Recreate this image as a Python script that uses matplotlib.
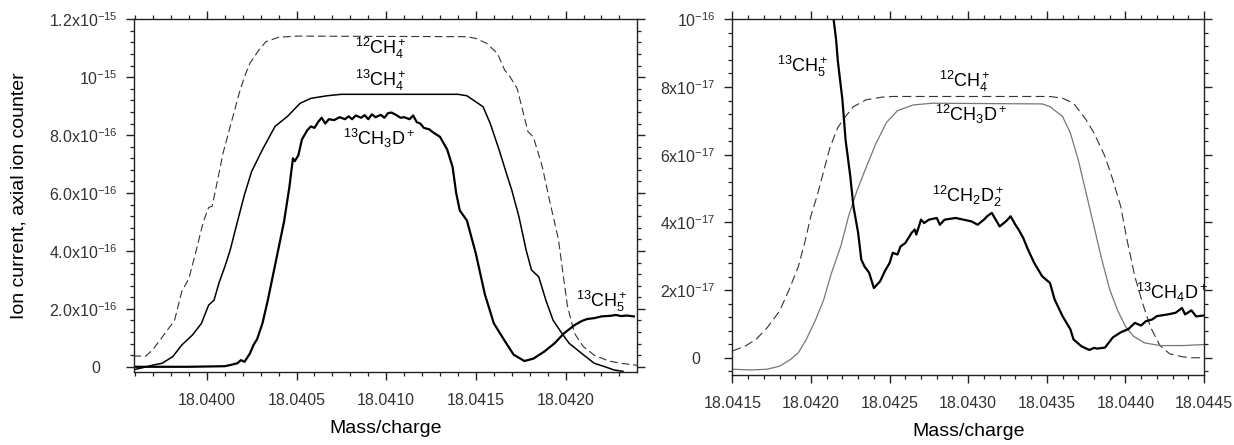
import matplotlib
matplotlib.use("Agg")
from matplotlib import pyplot as plt
from matplotlib.ticker import MultipleLocator, FixedLocator, FixedFormatter, FormatStrFormatter

plt.rcParams['font.family'] = ['Liberation Sans', 'DejaVu Sans']
plt.rcParams['mathtext.fontset'] = 'custom'
plt.rcParams['mathtext.rm'] = 'Liberation Sans'
plt.rcParams['mathtext.it'] = 'Liberation Sans:italic'
plt.rcParams['mathtext.bf'] = 'Liberation Sans:bold'

# ---- left panel (ion current in units of 1e-16) ----
mz_12ch4_a = [18.03959, 18.03966, 18.03970, 18.03976, 18.03982, 18.03986, 18.03990, 18.03994,
              18.03998, 18.04001, 18.04003, 18.04006, 18.04009, 18.04013, 18.04018, 18.04021,
              18.04024, 18.04029, 18.04033, 18.04040, 18.04050, 18.04145, 18.04150, 18.04156,
              18.04162, 18.04166, 18.04169, 18.04173, 18.04176, 18.04179, 18.04182, 18.04187,
              18.04191, 18.04196, 18.04201, 18.04205, 18.04210, 18.04216, 18.04224, 18.04231,
              18.04240]
i_12ch4_a = [0.37, 0.37, 0.6, 1.1, 1.6, 2.6, 3.05, 4.0,
             5.0, 5.5, 5.55, 6.45, 7.37, 8.29, 9.44, 10.02,
             10.48, 10.94, 11.23, 11.38, 11.42, 11.4, 11.34, 11.17,
             10.82, 10.25, 10.02, 9.61, 8.87, 8.12, 7.94, 6.91,
             5.76, 4.4, 2.1, 1.15, 0.69, 0.4, 0.2, 0.12,
             0.05]

mz_13ch4 = [18.03960, 18.03965, 18.03970, 18.03975, 18.03981, 18.03986, 18.03992, 18.03997,
            18.04001, 18.04004, 18.04007, 18.04010, 18.04013, 18.04017, 18.04021, 18.04025,
            18.04031, 18.04038, 18.04045, 18.04052, 18.04058, 18.04067, 18.04075, 18.04140,
            18.04145, 18.04154, 18.04158, 18.04163, 18.04167, 18.04170, 18.04174, 18.04178,
            18.04181, 18.04185, 18.04189, 18.04193, 18.04198, 18.04202, 18.04209, 18.04216,
            18.04222, 18.04227, 18.04232]
i_13ch4 = [-0.09, -0.02, 0.06, 0.12, 0.35, 0.75, 1.1, 1.5,
           2.13, 2.3, 2.94, 3.45, 4.03, 5.0, 5.95, 6.75,
           7.5, 8.3, 8.65, 9.1, 9.27, 9.36, 9.41, 9.41,
           9.36, 8.98, 8.4, 7.48, 6.68, 6.1, 5.18, 4.03,
           3.34, 3.11, 2.3, 1.61, 1.15, 0.81, 0.46, 0.12,
           0.0, -0.11, -0.16]

mz_13ch3d = [18.03960, 18.03990, 18.04010, 18.04013, 18.04017, 18.04019, 18.04021, 18.04024,
             18.04026, 18.04028, 18.04031, 18.04034, 18.04037, 18.04040, 18.04043, 18.04046,
             18.04048, 18.04049, 18.04051, 18.04053, 18.04056, 18.04058, 18.04060, 18.04062,
             18.04064, 18.04066, 18.04068, 18.04071, 18.04074, 18.04077, 18.04079, 18.04081,
             18.04083, 18.04086, 18.04088, 18.04090, 18.04092, 18.04094, 18.04097, 18.04099,
             18.04101, 18.04103, 18.04106, 18.04108, 18.04110, 18.04113, 18.04115, 18.04117,
             18.04119, 18.04121, 18.04124, 18.04126, 18.04130, 18.04134, 18.04137, 18.04139,
             18.04141, 18.04145, 18.04150, 18.04155, 18.04160, 18.04166, 18.04171, 18.04177,
             18.04182, 18.04188, 18.04194, 18.04199, 18.04205, 18.04209, 18.04212, 18.04216,
             18.04220, 18.04225, 18.04228, 18.04231, 18.04234, 18.04238]
i_13ch3d = [0.0, 0.0, 0.02, 0.06, 0.12, 0.23, 0.17, 0.46,
            0.75, 0.95, 1.5, 2.3, 3.2, 4.1, 5.0, 6.2,
            7.2, 7.1, 7.3, 7.85, 8.17, 8.3, 8.25, 8.45,
            8.6, 8.4, 8.55, 8.52, 8.62, 8.55, 8.65, 8.55,
            8.68, 8.6, 8.69, 8.55, 8.72, 8.62, 8.7, 8.6,
            8.76, 8.78, 8.68, 8.6, 8.62, 8.55, 8.68, 8.45,
            8.4, 8.25, 8.2, 8.1, 7.94, 7.5, 6.9, 6.0,
            5.4, 5.05, 3.9, 2.5, 1.5, 0.9, 0.42, 0.2,
            0.28, 0.52, 0.82, 1.15, 1.44, 1.58, 1.65, 1.68,
            1.74, 1.76, 1.79, 1.75, 1.77, 1.74]

# ---- right panel (ion current in units of 1e-17) ----
mz_12ch4_b = [18.04150, 18.04158, 18.04165, 18.04172, 18.04180, 18.04186, 18.04192, 18.04196,
              18.04200, 18.04204, 18.04208, 18.04212, 18.04217, 18.04222, 18.04227, 18.04235,
              18.04245, 18.04252, 18.04352, 18.04360, 18.04367, 18.04375, 18.04380, 18.04387,
              18.04392, 18.04397, 18.04401, 18.04406, 18.04411, 18.04416, 18.04422, 18.04428,
              18.04436, 18.04442, 18.04450]
i_12ch4_b = [0.2, 0.34, 0.54, 0.88, 1.38, 2.0, 2.7, 3.4,
             4.2, 4.8, 5.5, 6.2, 6.8, 7.13, 7.42, 7.62,
             7.7, 7.72, 7.72, 7.67, 7.52, 7.03, 6.64, 5.95,
             5.26, 4.47, 3.49, 2.4, 1.6, 0.9, 0.36, 0.12,
             0.03, 0.0, 0.0]

mz_12ch3d = [18.04150, 18.04162, 18.04172, 18.04180, 18.04187, 18.04192, 18.04197, 18.04203,
             18.04208, 18.04213, 18.04219, 18.04224, 18.04229, 18.04234, 18.04241, 18.04248,
             18.04255, 18.04265, 18.04277, 18.04347, 18.04352, 18.04360, 18.04365, 18.04370,
             18.04375, 18.04380, 18.04385, 18.04390, 18.04395, 18.04400, 18.04405, 18.04412,
             18.04422, 18.04437, 18.04450]
i_12ch3d = [-0.34, -0.36, -0.34, -0.25, -0.05, 0.15, 0.54, 1.13,
            1.7, 2.5, 3.3, 4.2, 4.9, 5.5, 6.3, 6.95,
            7.3, 7.47, 7.52, 7.5, 7.42, 7.13, 6.64, 5.85,
            4.87, 3.88, 2.9, 2.02, 1.4, 0.93, 0.64, 0.44,
            0.36, 0.36, 0.39]

mz_13ch5 = [18.04212, 18.042144, 18.04216, 18.04217, 18.04220, 18.04222, 18.04225, 18.04227,
            18.04230, 18.04232, 18.04234, 18.04237, 18.04240, 18.04244, 18.04247, 18.04250,
            18.04252, 18.04255, 18.04257, 18.04260, 18.04264, 18.04266, 18.04267, 18.04270,
            18.04272, 18.04275, 18.04280, 18.04282, 18.04285, 18.04292, 18.04297, 18.04302,
            18.04306, 18.04310, 18.04312, 18.04315, 18.04320, 18.04324, 18.04327, 18.04330,
            18.04332, 18.04335, 18.04338, 18.04342, 18.04347, 18.04352, 18.04355, 18.04360,
            18.04365, 18.04367, 18.04372, 18.04377, 18.04380, 18.04382, 18.04387, 18.04392,
            18.04397, 18.04402, 18.04406, 18.04410, 18.04413, 18.04417, 18.04420, 18.04427,
            18.04432, 18.04436, 18.04438, 18.04442, 18.04445, 18.04450]
i_13ch5 = [12.0, 10.0, 9.39, 8.8, 7.62, 6.44, 5.36, 4.47,
           3.69, 2.9, 2.7, 2.51, 2.06, 2.26, 2.56, 2.8,
           3.1, 3.05, 3.29, 3.39, 3.69, 3.79, 3.64, 4.08,
           3.98, 4.08, 4.13, 3.93, 4.08, 4.13, 4.08, 4.03,
           3.93, 4.08, 4.18, 4.28, 3.88, 4.03, 4.18, 3.93,
           3.79, 3.54, 3.2, 2.8, 2.41, 2.21, 1.72, 1.23,
           0.84, 0.54, 0.34, 0.23, 0.29, 0.27, 0.3, 0.6,
           0.75, 0.85, 1.03, 0.95, 1.08, 1.13, 1.23, 1.28,
           1.33, 1.47, 1.28, 1.4, 1.22, 1.25]

# the "0" tick label is drawn separately (it sits further left in the original)
left_yticks = [0, 2, 4, 6, 8, 10, 12]
left_ylabels = ['', '2.0x10$^{-16}$', '4.0x10$^{-16}$', '6.0x10$^{-16}$',
                '8.0x10$^{-16}$', '10$^{-15}$', '1.2x10$^{-15}$']
right_yticks = [0, 2, 4, 6, 8, 10]
right_ylabels = ['', '2x10$^{-17}$', '4x10$^{-17}$', '6x10$^{-17}$',
                 '8x10$^{-17}$', '10$^{-16}$']

INK = '#222222'
TICKFS = 11.5


def style_axes(ax, zero_offset):
    for s in ax.spines.values():
        s.set_color(INK)
        s.set_linewidth(1.0)
    ax.tick_params(which='both', direction='out', top=True, right=True, color=INK,
                   labelcolor='#333333', labelsize=TICKFS)
    ax.tick_params(which='major', length=6, width=1.0)
    ax.tick_params(which='minor', length=3, width=0.9)
    ax.tick_params(axis='x', which='major', pad=9)
    ax.tick_params(axis='y', which='major', pad=6)
    ax.xaxis.set_major_locator(MultipleLocator(0.0005))
    ax.xaxis.set_minor_locator(MultipleLocator(0.0001))
    ax.xaxis.set_major_formatter(FormatStrFormatter('%.4f'))
    ax.yaxis.set_minor_locator(MultipleLocator(0.4))
    ax.set_xlabel('Mass/charge', fontsize=14, labelpad=9)
    ax.annotate('0', xy=(0, 0), xycoords=('axes fraction', 'data'),
                xytext=(zero_offset, 0), textcoords='offset points',
                ha='right', va='center_baseline', fontsize=TICKFS, color='#333333')


fig = plt.figure(figsize=(12.34, 4.45), dpi=100)
ax1 = fig.add_axes([0.1086, 0.1647, 0.4076, 0.7919])
ax2 = fig.add_axes([0.5935, 0.1573, 0.3822, 0.7993])

# left panel
ax1.plot(mz_12ch4_a, i_12ch4_a, color='#333333', lw=0.8, dashes=(7, 3.5))
ax1.plot(mz_13ch4, i_13ch4, color='black', lw=1.1)
ax1.plot(mz_13ch3d, i_13ch3d, color='black', lw=1.6)
ax1.set_xlim(18.039594, 18.042398)
ax1.set_ylim(-0.17, 12)
style_axes(ax1, -24)
ax1.yaxis.set_major_locator(FixedLocator(left_yticks))
ax1.yaxis.set_major_formatter(FixedFormatter(left_ylabels))
ax1.set_ylabel('Ion current, axial ion counter', fontsize=14, labelpad=15)
ax1.text(18.04097, 11.0, '$^{12}$CH$_4^+$', fontsize=13, ha='center', va='center')
ax1.text(18.04097, 9.9, '$^{13}$CH$_4^+$', fontsize=13, ha='center', va='center')
ax1.text(18.04096, 7.9, '$^{13}$CH$_3$D$^+$', fontsize=13, ha='center', va='center')
ax1.text(18.04220, 2.25, '$^{13}$CH$_5^+$', fontsize=13, ha='center', va='center')

# right panel
ax2.plot(mz_12ch4_b, i_12ch4_b, color='#333333', lw=0.8, dashes=(8, 4))
ax2.plot(mz_12ch3d, i_12ch3d, color='#777777', lw=0.9)
ax2.plot(mz_13ch5, i_13ch5, color='black', lw=1.6)
ax2.set_xlim(18.0415, 18.0445)
ax2.set_ylim(-0.51, 10)
style_axes(ax2, -23)
ax2.yaxis.set_major_locator(FixedLocator(right_yticks))
ax2.yaxis.set_major_formatter(FixedFormatter(right_ylabels))
ax2.text(18.04195, 8.6, '$^{13}$CH$_5^+$', fontsize=13, ha='center', va='center')
ax2.text(18.04298, 8.16, '$^{12}$CH$_4^+$', fontsize=13, ha='center', va='center')
ax2.text(18.04302, 7.18, '$^{12}$CH$_3$D$^+$', fontsize=13, ha='center', va='center')
ax2.text(18.04300, 4.77, '$^{12}$CH$_2$D$_2^+$', fontsize=13, ha='center', va='center')
ax2.text(18.04430, 1.92, '$^{13}$CH$_4$D$^+$', fontsize=13, ha='center', va='center')

fig.savefig('out.png', dpi=100)
